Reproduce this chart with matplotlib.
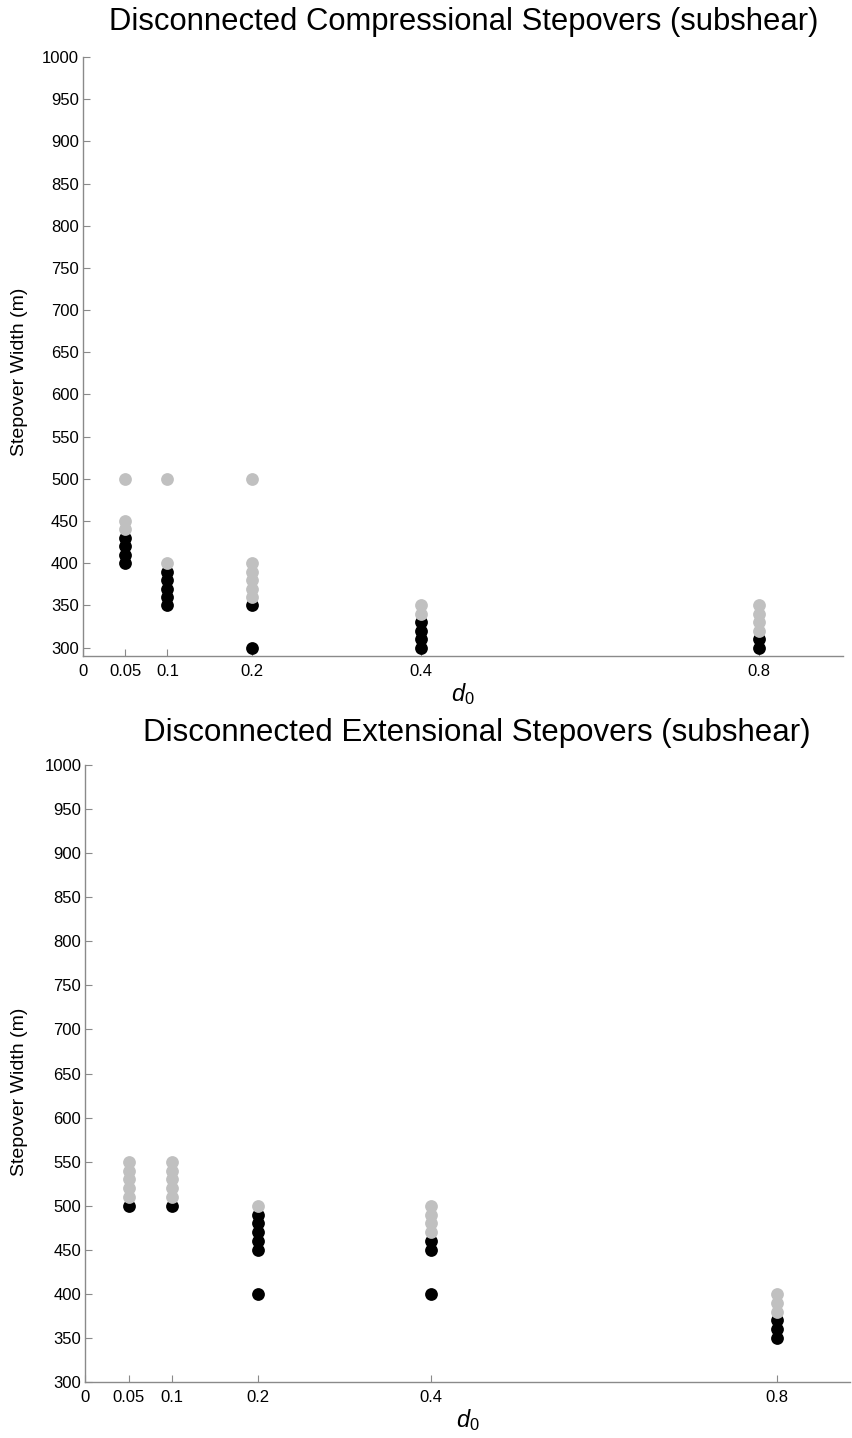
import matplotlib
matplotlib.use('Agg')
import matplotlib.pyplot as plt

plt.rcParams['font.family'] = ['Liberation Sans', 'DejaVu Sans']
plt.rcParams['mathtext.fontset'] = 'custom'
plt.rcParams['mathtext.it'] = 'Liberation Sans:italic'
plt.rcParams['mathtext.rm'] = 'Liberation Sans'

#                   Data

d0_values = [0.05, 0.1, 0.2, 0.4, 0.8]
tick_labels = ['0', '0.05', '0.1', '0.2', '0.4', '0.8']
tick_pos = [0, 0.05, 0.1, 0.2, 0.4, 0.8]

# compressional, subshear
comp_gray = [
    [500, 450, 440],
    [500, 400],
    [500, 400, 390, 380, 370, 360],
    [350, 340],
    [350, 340, 330, 320],
]
comp_black = [
    [430, 420, 410, 400],
    [390, 380, 370, 360, 350],
    [350, 300],
    [330, 320, 310, 300],
    [310, 300],
]

# extensional, subshear
ext_gray = [
    [550, 540, 530, 520, 510],
    [550, 540, 530, 520, 510],
    [500],
    [500, 490, 480, 470],
    [400, 390, 380],
]
ext_black = [
    [500],
    [500],
    [490, 480, 470, 460, 450, 400],
    [460, 450, 400],
    [370, 360, 350],
]

GRAY = '#c0c0c0'
AXC = '#8a8a8a'


def plot_panel(ax, gray, black, ylim, xlim):
    for x, ys in zip(d0_values, black):
        ax.plot([x] * len(ys), ys, 'o', color='black', ms=9.2, mew=0, zorder=3)
    for x, ys in zip(d0_values, gray):
        ax.plot([x] * len(ys), ys, 'o', color=GRAY, ms=9.2, mew=0, zorder=4)
    ax.set_xlim(*xlim)
    ax.set_ylim(*ylim)
    ax.set_xticks(tick_pos)
    ax.set_xticklabels(tick_labels)
    ax.set_yticks(range(300, 1001, 50))
    for s in ['top', 'right']:
        ax.spines[s].set_visible(False)
    for s in ['left', 'bottom']:
        ax.spines[s].set_color(AXC)
        ax.spines[s].set_linewidth(1.0)
    ax.tick_params(direction='in', length=5, color=AXC, labelsize=12)
    ax.tick_params(axis='x', pad=6)
    ax.tick_params(axis='y', pad=3)
    ax.set_xlabel('$d_0$', fontsize=17, labelpad=1)


fig = plt.figure(figsize=(8.53, 14.38), dpi=100)

ax1 = fig.add_axes([0.0973, 0.5438, 0.891, 0.4166])
plot_panel(ax1, comp_gray, comp_black, (290, 1000), (0, 0.9))
fig.text(464 / 853, 1 - 22 / 1438, 'Disconnected Compressional Stepovers (subshear)',
         ha='center', va='center', fontsize=22.3)
fig.text(20 / 853, 1 - 372 / 1438, 'Stepover Width (m)', rotation=90,
         ha='center', va='center', fontsize=14)

ax2 = fig.add_axes([0.1002, 0.0389, 0.8963, 0.4291])
plot_panel(ax2, ext_gray, ext_black, (300, 1000), (0, 0.885))
fig.text(477 / 853, 1 - 733 / 1438, 'Disconnected Extensional Stepovers (subshear)',
         ha='center', va='center', fontsize=22.5)
fig.text(20 / 853, 1 - 1092 / 1438, 'Stepover Width (m)', rotation=90,
         ha='center', va='center', fontsize=14)

fig.savefig('out.png', dpi=100)
